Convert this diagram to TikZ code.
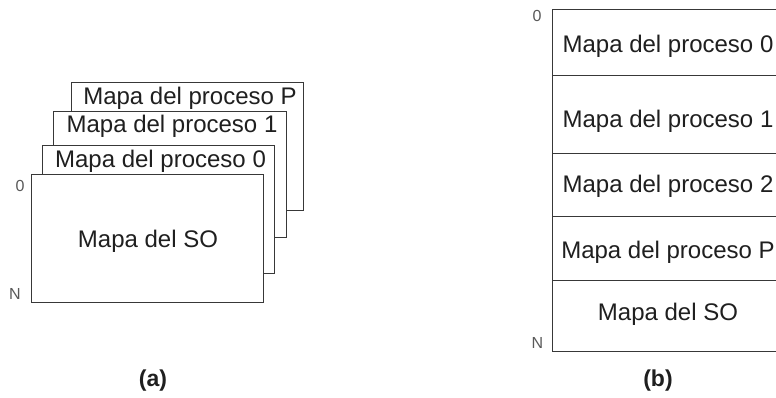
\documentclass[tikz,border=0pt]{standalone}
\usepackage{fontspec}
\setmainfont{Liberation Sans}
\begin{document}
\begin{tikzpicture}[x=1pt,y=-1pt,
  frame/.style={draw=black!78, line width=0.9pt, fill=white, inner sep=0pt,
    anchor=north west, minimum width=232pt},
  txt/.style={font=\fontsize{24}{28}\selectfont, text=black!88, anchor=base, inner sep=0pt},
  addr/.style={font=\fontsize{16}{19}\selectfont, text=black!65, inner sep=0pt},
  caption/.style={font=\fontsize{23}{28}\selectfont\bfseries, text=black!88, inner sep=0pt}]
\useasboundingbox (0,0) rectangle (776,398);
\clip (0,0) rectangle (776,398);

% (a) stacked address maps, drawn back to front
\node[frame, minimum height=128pt] (mapP) at (71,82) {};
\node[frame, minimum height=126pt, minimum width=233pt] (map1) at (53,111) {};
\node[frame, minimum height=128pt] (map0) at (42,145) {};
\node[frame, minimum height=128pt] (mapSO) at (31,174) {};

\node[txt] (tP) at (190,105) {Mapa del proceso P};
\node[txt] (t1) at (172,133) {Mapa del proceso 1};
\node[txt] (t0) at (160.5,168) {Mapa del proceso 0};
\node[txt] (tSO) at (148,247) {Mapa del SO};

\node[addr] (a0) at (20,186) {0};
\node[addr] (aN) at (15,294) {N};
\node[caption] (capA) at (153,381) {(a)};

% (b) single address space split into regions
\node[frame, minimum height=66pt] (r0) at (552,9) {};
\node[frame, minimum height=78pt] (r1) at (552,75) {};
\node[frame, minimum height=63pt] (r2) at (552,153) {};
\node[frame, minimum height=64pt] (rP) at (552,216) {};
\node[frame, minimum height=71pt] (rSO) at (552,280) {};

\node[txt] (u0) at (668,53) {Mapa del proceso 0};
\node[txt] (u1) at (668,128) {Mapa del proceso 1};
\node[txt] (u2) at (668,193) {Mapa del proceso 2};
\node[txt] (uP) at (668,258) {Mapa del proceso P};
\node[txt] (uSO) at (668,320) {Mapa del SO};

\node[addr] (b0) at (537,16) {0};
\node[addr] (bN) at (537.5,343) {N};
\node[caption] (capB) at (658,381) {(b)};
\end{tikzpicture}
\end{document}
